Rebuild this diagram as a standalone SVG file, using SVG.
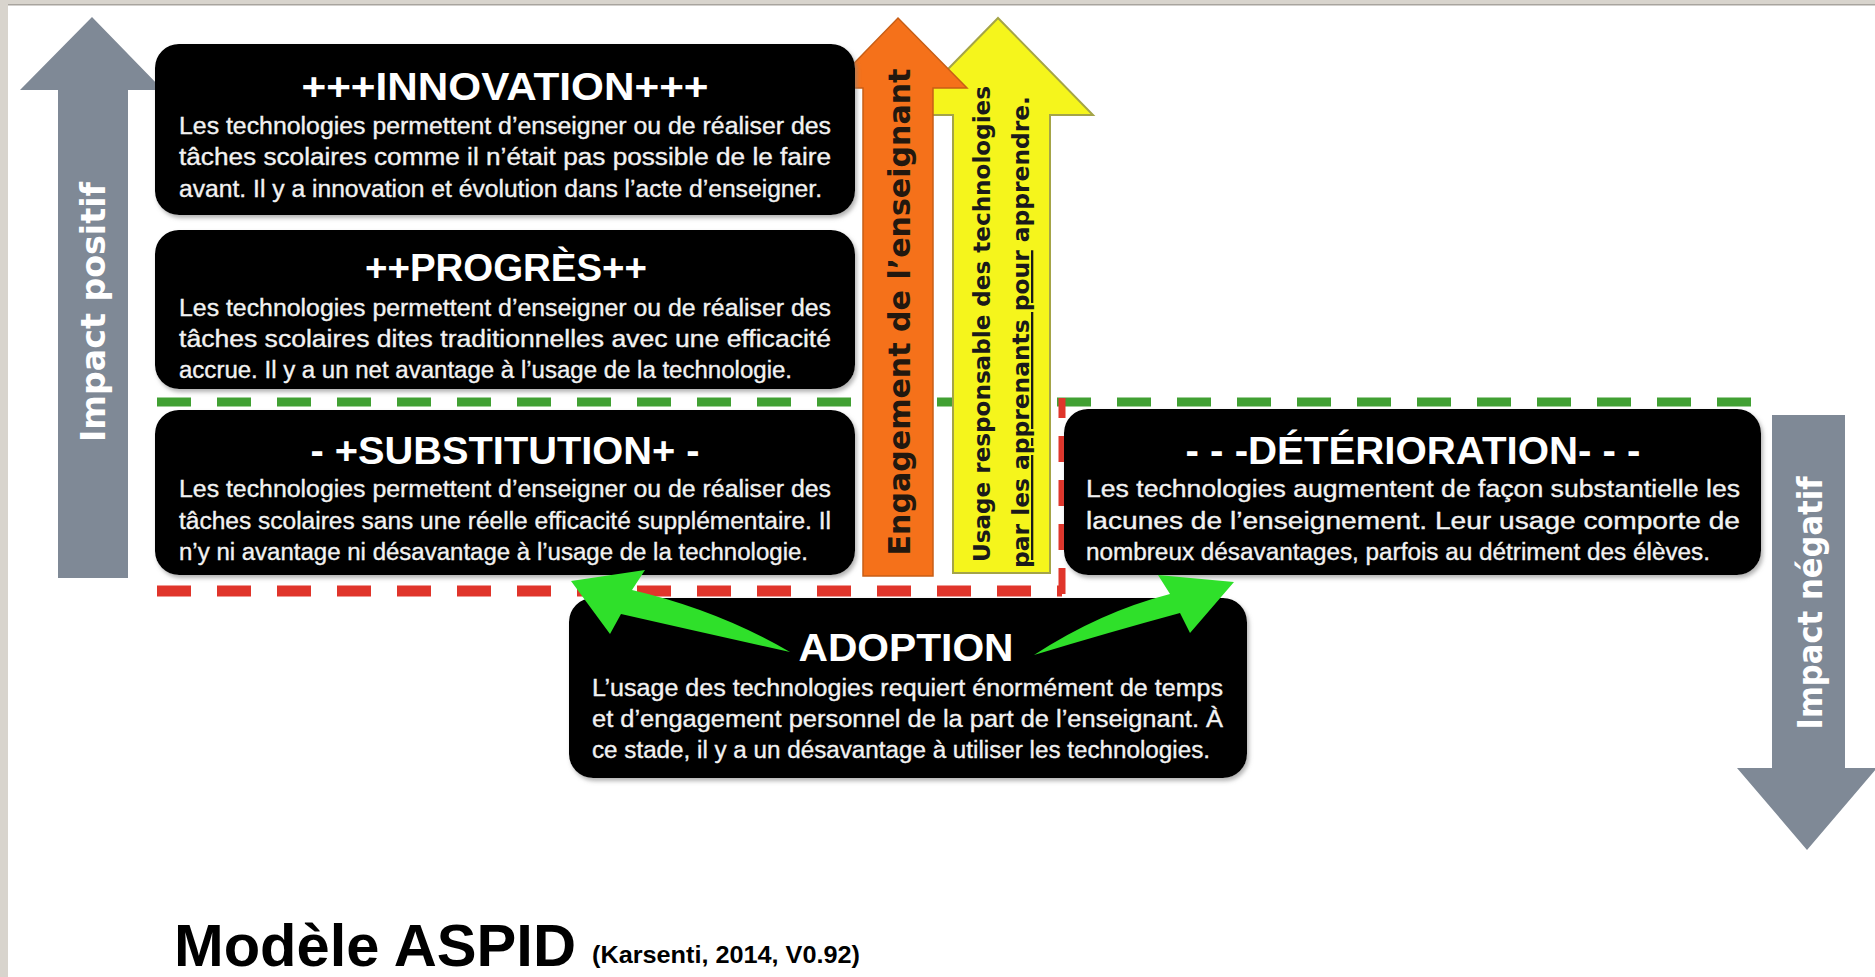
<svg xmlns="http://www.w3.org/2000/svg" width="1875" height="977" viewBox="0 0 1875 977">
<defs>
<style>
.box{fill:#000;}
.ttl{font-family:"Liberation Sans",Arial,sans-serif;font-weight:bold;font-size:38px;fill:#fff;text-anchor:middle;}
.bdy{font-family:"Liberation Sans",Arial,sans-serif;font-size:23px;fill:#f2f2f2;stroke:#f2f2f2;stroke-width:0.35px;}
.vt{font-family:"DejaVu Sans",Verdana,sans-serif;font-weight:bold;text-anchor:middle;}
.gdash{stroke:#41a033;stroke-width:9;stroke-dasharray:34 26;fill:none;}
.rdash{stroke:#e0352b;stroke-width:11;stroke-dasharray:34 26;fill:none;}
.grn{fill:#2fe02a;}
</style>
<filter id="sh" x="-5%" y="-5%" width="110%" height="115%">
<feDropShadow dx="2" dy="3" stdDeviation="2" flood-color="#808080" flood-opacity="0.6"/>
</filter>
</defs>
<rect x="0" y="0" width="1875" height="977" fill="#ffffff"/>
<rect x="0" y="0" width="1875" height="5" fill="#d8d4cd"/>
<rect x="0" y="4" width="1875" height="1.5" fill="#a8a49e"/>
<rect x="0" y="0" width="8" height="977" fill="#d8d4cd"/>

<g id="dashes">
<line class="gdash" x1="157" y1="402" x2="1751" y2="402"/>
<line class="rdash" x1="157" y1="591" x2="1062" y2="591"/>
<line x1="1062" y1="594" x2="1062" y2="398" stroke="#e0352b" stroke-width="7" stroke-dasharray="26 18"/>
</g>

<g id="impact-positif">
<polygon points="92,17 163,90 128,90 128,578 58,578 58,90 20,90" fill="#7f8996"/>
<text class="vt" transform="translate(105,312) rotate(-90)" font-size="33" fill="#ffffff" textLength="260" lengthAdjust="spacingAndGlyphs">Impact positif</text>
</g>

<g id="usage-responsable">
<polygon points="998,18 1093,115 1050,115 1050,573 953,573 953,115 903,115" fill="#f5f51c" stroke="#a4a448" stroke-width="2"/>
<text class="vt" transform="translate(990,324) rotate(-90)" font-size="23" fill="#1a1a1a" textLength="476" lengthAdjust="spacingAndGlyphs">Usage responsable des technologies</text>
<text class="vt" transform="translate(1029,332) rotate(-90)" font-size="23" fill="#1a1a1a" textLength="472" lengthAdjust="spacingAndGlyphs"><tspan text-decoration="underline">par les apprenants pour</tspan> apprendre.</text>
</g>

<g id="engagement">
<polygon points="898,18 967,88 933,88 933,576 863,576 863,88 830,88" fill="#f5711a" stroke="#c85e16" stroke-width="1.5"/>
<text class="vt" transform="translate(910,312) rotate(-90)" font-size="30" fill="#22180f" textLength="487" lengthAdjust="spacingAndGlyphs">Engagement de l’enseignant</text>
</g>

<g id="innovation">
<rect class="box" x="155" y="44" width="700" height="171" rx="24" filter="url(#sh)"/>
<text class="ttl" x="505" y="100" textLength="407" lengthAdjust="spacingAndGlyphs">+++INNOVATION+++</text>
<text class="bdy" x="179" y="134" textLength="652" lengthAdjust="spacingAndGlyphs">Les technologies permettent d’enseigner ou de réaliser des</text>
<text class="bdy" x="179" y="165" textLength="652" lengthAdjust="spacingAndGlyphs">tâches scolaires comme il n’était pas possible de le faire</text>
<text class="bdy" x="179" y="197" textLength="643" lengthAdjust="spacingAndGlyphs">avant. Il y a innovation et évolution dans l’acte d’enseigner.</text>
</g>

<g id="progres">
<rect class="box" x="155" y="230" width="700" height="159" rx="24" filter="url(#sh)"/>
<text class="ttl" x="506" y="281" textLength="282" lengthAdjust="spacingAndGlyphs">++PROGRÈS++</text>
<text class="bdy" x="179" y="316" textLength="652" lengthAdjust="spacingAndGlyphs">Les technologies permettent d’enseigner ou de réaliser des</text>
<text class="bdy" x="179" y="347" textLength="652" lengthAdjust="spacingAndGlyphs">tâches scolaires dites traditionnelles avec une efficacité</text>
<text class="bdy" x="179" y="378" textLength="613" lengthAdjust="spacingAndGlyphs">accrue. Il y a un net avantage à l’usage de la technologie.</text>
</g>

<g id="substitution">
<rect class="box" x="155" y="410" width="700" height="165" rx="24" filter="url(#sh)"/>
<text class="ttl" x="505" y="464" textLength="389" lengthAdjust="spacingAndGlyphs">- +SUBSTITUTION+ -</text>
<text class="bdy" x="179" y="497" textLength="652" lengthAdjust="spacingAndGlyphs">Les technologies permettent d’enseigner ou de réaliser des</text>
<text class="bdy" x="179" y="529" textLength="652" lengthAdjust="spacingAndGlyphs">tâches scolaires sans une réelle efficacité supplémentaire. Il</text>
<text class="bdy" x="179" y="560" textLength="629" lengthAdjust="spacingAndGlyphs">n’y ni avantage ni désavantage à l’usage de la technologie.</text>
</g>

<g id="deterioration">
<rect class="box" x="1064" y="409" width="697" height="166" rx="24" filter="url(#sh)"/>
<text class="ttl" x="1413" y="464" textLength="455" lengthAdjust="spacingAndGlyphs">- - -DÉTÉRIORATION- - -</text>
<text class="bdy" x="1086" y="497" textLength="654" lengthAdjust="spacingAndGlyphs">Les technologies augmentent de façon substantielle les</text>
<text class="bdy" x="1086" y="529" textLength="654" lengthAdjust="spacingAndGlyphs">lacunes de l’enseignement. Leur usage comporte de</text>
<text class="bdy" x="1086" y="560" textLength="624" lengthAdjust="spacingAndGlyphs">nombreux désavantages, parfois au détriment des élèves.</text>
</g>

<g id="adoption">
<rect class="box" x="569" y="598" width="678" height="180" rx="24" filter="url(#sh)"/>
<text class="ttl" x="906" y="661" textLength="215" lengthAdjust="spacingAndGlyphs">ADOPTION</text>
<text class="bdy" x="592" y="696" textLength="631" lengthAdjust="spacingAndGlyphs">L’usage des technologies requiert énormément de temps</text>
<text class="bdy" x="592" y="727" textLength="631" lengthAdjust="spacingAndGlyphs">et d’engagement personnel de la part de l’enseignant. À</text>
<text class="bdy" x="592" y="758" textLength="618" lengthAdjust="spacingAndGlyphs">ce stade, il y a un désavantage à  utiliser les technologies.</text>
</g>

<g id="impact-negatif">
<polygon points="1772,415 1845,415 1845,768 1877,768 1807,850 1737,768 1772,768" fill="#7f8996"/>
<text class="vt" transform="translate(1822,603) rotate(-90)" font-size="33" fill="#ffffff" textLength="253" lengthAdjust="spacingAndGlyphs">Impact négatif</text>
</g>

<g id="connectors">
<path class="grn" d="M790,652 Q718,610 632,590 L645,570 L571,581 L610,634 L621,614 Q700,632 790,652 Z"/>
<path class="grn" d="M1034,655 Q1100,612 1170,594 L1158,575 L1234,582 L1190,633 L1180,613 Q1110,632 1034,655 Z"/>
</g>

<g id="caption">
<text x="174" y="966" font-family="Liberation Sans,Arial,sans-serif" font-weight="bold" font-size="60" fill="#000" textLength="402" lengthAdjust="spacingAndGlyphs">Modèle ASPID</text>
<text x="592" y="963" font-family="Liberation Sans,Arial,sans-serif" font-weight="bold" font-size="24" fill="#000" textLength="268" lengthAdjust="spacingAndGlyphs">(Karsenti, 2014, V0.92)</text>
</g>
</svg>
